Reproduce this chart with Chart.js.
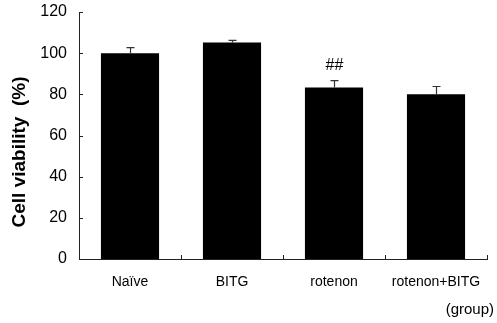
<!DOCTYPE html>
<html>
<head>
<meta charset="utf-8">
<script src="https://cdn.jsdelivr.net/npm/chart.js@4.4.0/dist/chart.umd.min.js"></script>
<style>
  html, body { margin: 0; padding: 0; background: #fff; }
  #wrap { width: 497px; height: 323px; position: relative; }
</style>
</head>
<body>
<div id="wrap"><canvas id="c" width="497" height="323"></canvas></div>
<script>
const categories = ['Naïve', 'BITG', 'rotenon', 'rotenon+BITG'];
const viability = [100, 105.2, 83.3, 80];
const errors = [2.7, 1.0, 3.4, 3.8];
const marks = ['', '', '##', ''];
const yTicks = [0, 20, 40, 60, 80, 100, 120];
const yTitle = 'Cell viability  (%)';
const xTitle = '(group)';

const FONT = '"Liberation Sans", Arial, sans-serif';
const AXIS = '#222';

const extras = {
  id: 'extras',
  afterDatasetsDraw(chart) {
    const ctx = chart.ctx;
    const x = chart.scales.x, y = chart.scales.y;
    const area = chart.chartArea;
    const meta = chart.getDatasetMeta(0);
    ctx.save();
    ctx.strokeStyle = '#333';
    ctx.lineWidth = 1.2;
    meta.data.forEach((bar, i) => {
      const cx = Math.round(bar.x) + 0.5;
      const yTop = y.getPixelForValue(viability[i] + errors[i]);
      const yVal = y.getPixelForValue(viability[i]);
      ctx.beginPath();
      ctx.moveTo(cx, yVal);
      ctx.lineTo(cx, yTop);
      ctx.moveTo(cx - 4, yTop);
      ctx.lineTo(cx + 4, yTop);
      ctx.stroke();
      if (marks[i]) {
        ctx.fillStyle = '#000';
        ctx.font = '16px ' + FONT;
        ctx.textAlign = 'center';
        ctx.textBaseline = 'middle';
        ctx.fillText(marks[i], cx, yTop - 15);
      }
    });
    ctx.strokeStyle = AXIS;
    ctx.lineWidth = 1;
    yTicks.forEach(v => {
      const py = Math.round(y.getPixelForValue(v)) + 0.5;
      ctx.beginPath();
      ctx.moveTo(area.left, py);
      ctx.lineTo(area.left + 4, py);
      ctx.stroke();
    });
    const step = x.getPixelForValue(1) - x.getPixelForValue(0);
    for (let i = 0; i < categories.length; i++) {
      const px = Math.round(x.getPixelForValue(i) + step / 2) + 0.5;
      ctx.beginPath();
      ctx.moveTo(px, area.bottom);
      ctx.lineTo(px, area.bottom - 4);
      ctx.stroke();
    }
    ctx.fillStyle = '#000';
    ctx.font = 'bold 19px ' + FONT;
    ctx.textAlign = 'center';
    ctx.textBaseline = 'middle';
    ctx.save();
    ctx.translate(19.5, 152);
    ctx.rotate(-Math.PI / 2);
    ctx.fillText(yTitle, 0, 0);
    ctx.restore();
    ctx.font = '15px ' + FONT;
    ctx.textAlign = 'right';
    ctx.fillText(xTitle, 494, 310);
    ctx.restore();
  }
};

new Chart(document.getElementById('c'), {
  type: 'bar',
  data: {
    labels: categories,
    datasets: [{
      data: viability,
      backgroundColor: '#000',
      borderWidth: 0,
      categoryPercentage: 1.0,
      barPercentage: 0.57
    }]
  },
  options: {
    responsive: false,
    animation: false,
    devicePixelRatio: 1,
    layout: { padding: { left: 0, right: 10, top: 12, bottom: 0 } },
    plugins: { legend: { display: false }, tooltip: { enabled: false } },
    scales: {
      x: {
        grid: { display: false, drawTicks: false },
        border: { display: true, color: AXIS, width: 1 },
        ticks: { color: '#000', font: { family: FONT, size: 14 }, padding: 15, maxRotation: 0, autoSkip: false },
        afterFit(s) { s.height = 64; s.paddingLeft = 0; s.paddingRight = 0; }
      },
      y: {
        min: 0, max: 120,
        afterBuildTicks(s) { s.ticks = yTicks.map(v => ({ value: v })); },
        grid: { display: false, drawTicks: false },
        border: { display: true, color: AXIS, width: 1 },
        ticks: { color: '#000', font: { family: FONT, size: 16 }, padding: 12 },
        afterFit(s) { s.width = 79; s.paddingTop = 0; s.paddingBottom = 0; }
      }
    }
  },
  plugins: [extras]
});
</script>
</body>
</html>
